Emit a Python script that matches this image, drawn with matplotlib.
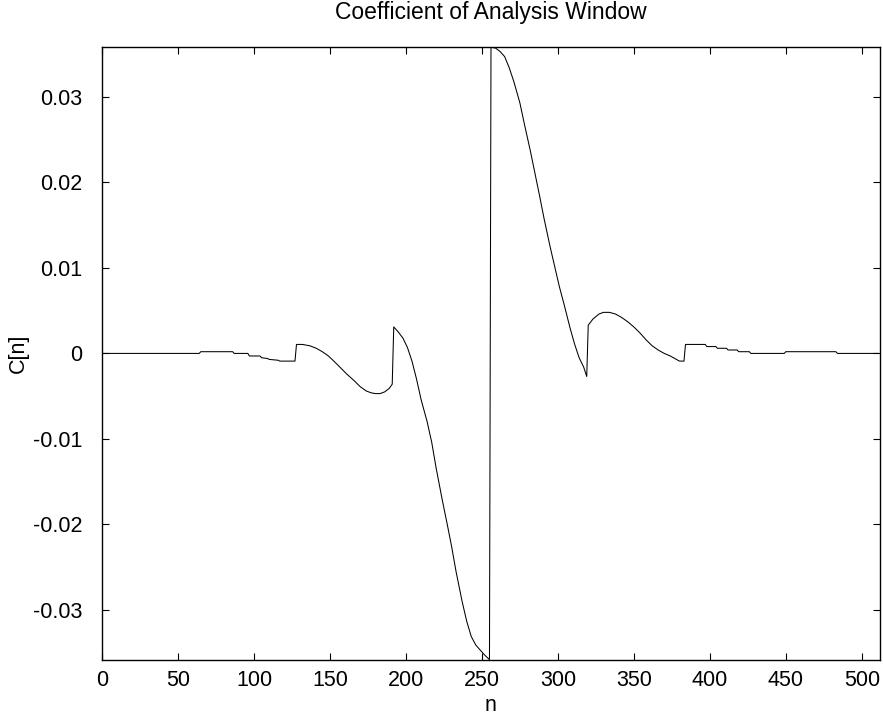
import matplotlib
matplotlib.use("Agg")
import matplotlib.pyplot as plt

# analysis window coefficients
n = [0, 64, 65, 86, 87, 96, 97, 104, 105, 109, 110, 116, 117, 127,
     128, 132, 137, 141, 145, 149, 152, 156, 161, 166, 170, 174, 177, 180,
     183, 186, 189, 191,
     192, 195, 198, 201, 204, 207, 210, 214, 217, 220, 224, 227, 230, 233,
     237, 240, 243, 246, 249, 252, 255,
     256, 259, 262, 265, 268, 271, 275, 278, 282, 285, 288, 291, 295, 298,
     301, 304, 308, 311, 314, 317, 319,
     320, 323, 327, 330, 334, 338, 342, 346, 350, 354, 358, 362, 366, 370,
     374, 378, 380, 383,
     384, 397, 398, 404, 405, 411, 412, 418, 419, 426, 427, 449, 450, 483,
     484, 511]
c = [0, 0, 0.0002, 0.0002, 0, 0, -0.0003, -0.0003, -0.0005, -0.0006,
     -0.0007, -0.0008, -0.0009, -0.0009,
     0.00105, 0.00105, 0.00088, 0.0006, 0.0002, -0.0003, -0.0008, -0.0015,
     -0.0024, -0.0032, -0.0039, -0.0044, -0.0046, -0.0047,
     -0.0047, -0.0045, -0.0041, -0.0036,
     0.0031, 0.0025, 0.0018, 0.0007, -0.0009, -0.0030, -0.0054, -0.0080,
     -0.0104, -0.0135, -0.0172, -0.0198, -0.0225, -0.0255,
     -0.0290, -0.0313, -0.0331, -0.0341, -0.0347, -0.0353, -0.0358,
     0.0358, 0.0357, 0.0353, 0.0347, 0.0334, 0.0318, 0.0293, 0.0268, 0.0236,
     0.0210, 0.0184, 0.0157, 0.0124, 0.0101,
     0.0078, 0.0058, 0.0030, 0.0011, -0.0005, -0.0016, -0.0027,
     0.0033, 0.0040, 0.0046, 0.0048, 0.0048, 0.0046, 0.0042, 0.0037, 0.0031,
     0.0024, 0.0016, 0.0009, 0.0004, 0.0000,
     -0.0003, -0.0007, -0.0009, -0.0009,
     0.00105, 0.00105, 0.0008, 0.0008, 0.0006, 0.0006, 0.0004, 0.0004,
     0.0002, 0.0002, 0, 0, 0.0002, 0.0002,
     0, 0]

xticks = [0, 50, 100, 150, 200, 250, 300, 350, 400, 450, 500]
yticks = [-0.03, -0.02, -0.01, 0, 0.01, 0.02, 0.03]
ytick_labels = ["-0.03", "-0.02", "-0.01", "0", "0.01", "0.02", "0.03"]

plt.rcParams["font.family"] = ["Liberation Sans", "DejaVu Sans"]

fig = plt.figure(figsize=(8.83, 7.2), dpi=100)
ax = fig.add_axes([0.1155, 0.0833, 0.8811, 0.8517])
ax.plot(n, c, color="black", linewidth=0.75)

ax.set_xlim(0, 512)
ax.set_ylim(-0.03585, 0.03585)
ax.set_xticks(xticks)
ax.set_yticks(yticks)
ax.set_yticklabels(ytick_labels)
ax.tick_params(direction="in", length=5, width=0.8, labelsize=15.5,
               top=True, right=True)
ax.tick_params(axis="x", pad=7)
ax.tick_params(axis="y", pad=14)
for s in ax.spines.values():
    s.set_linewidth(1.0)

ax.set_title("Coefficient of Analysis Window", fontsize=16.5, pad=20)
ax.set_xlabel("n", fontsize=15.5, labelpad=3)
ax.set_ylabel("C[n]", fontsize=15.5, labelpad=3)

fig.savefig("out.png", dpi=100)
